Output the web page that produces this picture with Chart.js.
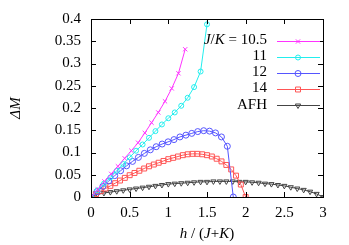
<!DOCTYPE html>
<html><head><meta charset="utf-8">
<script src="https://cdn.jsdelivr.net/npm/chart.js@4/dist/chart.umd.min.js"></script>
<style>html,body{margin:0;padding:0;background:#fff}#wrap{width:349px;height:245px}</style>
</head><body><div id="wrap"><canvas id="c" width="349" height="245"></canvas></div>
<script>
// ---- data ----
const xTicks = [0, 0.5, 1, 1.5, 2, 2.5, 3];
const yTicks = [0, 0.05, 0.1, 0.15, 0.2, 0.25, 0.3, 0.35, 0.4];
const legendLabels = ["10.5", "11", "12", "14", "AFH"];

const x105 = [0,0.087,0.174,0.261,0.348,0.435,0.522,0.609,0.696,0.783,0.87,0.957,1.044,1.131,1.218];
const y105 = [0,0.017,0.035,0.052,0.069,0.087,0.104,0.122,0.144,0.167,0.19,0.215,0.244,0.278,0.332];

const x11 = [0,0.083,0.167,0.25,0.333,0.417,0.5,0.583,0.667,0.75,0.833,0.917,1.0,1.083,1.167,1.25,1.333,1.417,1.5,1.583];
const y11 = [0,0.015,0.03,0.044,0.059,0.074,0.089,0.104,0.118,0.133,0.148,0.163,0.177,0.19,0.205,0.223,0.247,0.282,0.388,0.55];

const x12 = [0,0.077,0.153,0.23,0.307,0.383,0.46,0.537,0.613,0.69,0.767,0.843,0.92,0.997,1.073,1.15,1.227,1.303,1.38,1.457,1.533,1.61,1.687,1.763,1.84];
const y12 = [0,0.012,0.024,0.036,0.048,0.059,0.07,0.08,0.089,0.098,0.106,0.113,0.119,0.124,0.129,0.135,0.139,0.143,0.147,0.149,0.148,0.144,0.135,0.114,0];

const x14 = [0,0.0625,0.125,0.1875,0.25,0.3125,0.375,0.4375,0.5,0.5625,0.625,0.6875,0.75,0.8125,0.875,0.9375,1.0,1.0625,1.125,1.1875,1.25,1.3125,1.375,1.4375,1.5,1.5625,1.625,1.6875,1.75,1.8125,1.875,1.9375,2.0];
const y14 = [0,0.0065,0.013,0.019,0.025,0.031,0.037,0.043,0.049,0.054,0.059,0.064,0.069,0.073,0.077,0.081,0.085,0.088,0.091,0.094,0.096,0.097,0.097,0.096,0.094,0.091,0.086,0.08,0.072,0.062,0.048,0.028,0];

const xAFH = [0,0.083,0.167,0.25,0.333,0.417,0.5,0.583,0.667,0.75,0.833,0.917,1.0,1.083,1.167,1.25,1.333,1.417,1.5,1.583,1.667,1.75,1.833,1.917,2.0,2.083,2.167,2.25,2.333,2.417,2.5,2.583,2.667,2.75,2.833,2.917,3.0];
const yAFH = [0,0.006,0.009,0.011,0.013,0.015,0.017,0.019,0.021,0.023,0.025,0.027,0.029,0.03,0.031,0.032,0.033,0.034,0.034,0.035,0.035,0.035,0.035,0.034,0.034,0.033,0.032,0.03,0.029,0.027,0.025,0.022,0.019,0.016,0.012,0.007,0];

// ---- chart ----
const FONT = "'Liberation Serif','Times New Roman',serif";
function pts(xs, ys){ return xs.map((x,i)=>({x:x, y:ys[i]})); }
function ds(label, xs, ys, color, style, r, rot){
  return {label, data: pts(xs, ys), borderColor: color, backgroundColor: 'rgba(0,0,0,0)',
    pointBorderColor: color, pointBackgroundColor: 'rgba(0,0,0,0)', pointStyle: style,
    pointRadius: r, pointRotation: rot||0, pointBorderWidth: 1, borderWidth: 1, tension: 0, fill: false};
}
const datasets = [
  ds(legendLabels[0], x105, y105, '#ff33ff', 'crossRot', 3),
  ds(legendLabels[1], x11, y11, '#22eeee', 'circle', 2.5),
  ds(legendLabels[2], x12, y12, '#5555ff', 'circle', 3),
  ds(legendLabels[3], x14, y14, '#ff5555', 'rect', 3.5),
  ds(legendLabels[4], xAFH, yAFH, '#444444', 'triangle', 3, 180)
];

function drawSegs(ctx, segs, x, y, align){
  let w = 0;
  segs.forEach(s=>{ ctx.font = (s[1]? s[1]+' ':'') + '15px ' + FONT; w += ctx.measureText(s[0]).width; });
  let cx = align==='center' ? x - w/2 : (align==='right' ? x - w : x);
  ctx.textAlign = 'left'; ctx.fillStyle = '#000'; ctx.textBaseline = 'middle';
  segs.forEach(s=>{ ctx.font = (s[1]? s[1]+' ':'') + '15px ' + FONT; ctx.fillText(s[0], cx, y); cx += ctx.measureText(s[0]).width; });
}

const decor = {
  id: 'decor',
  afterDraw(chart){
    const ctx = chart.ctx, a = chart.chartArea, xs = chart.scales.x, ys = chart.scales.y;
    ctx.save();
    ctx.strokeStyle = '#000'; ctx.lineWidth = 1;
    ctx.strokeRect(Math.round(a.left)+0.5, Math.round(a.top)+0.5, Math.round(a.right-a.left), Math.round(a.bottom-a.top));
    ctx.beginPath();
    xTicks.forEach(v=>{ const p = Math.round(xs.getPixelForValue(v))+0.5;
      ctx.moveTo(p, a.bottom); ctx.lineTo(p, a.bottom-5);
      ctx.moveTo(p, a.top); ctx.lineTo(p, a.top+5); });
    yTicks.forEach(v=>{ const p = Math.round(ys.getPixelForValue(v))+0.5;
      ctx.moveTo(a.left, p); ctx.lineTo(a.left+5, p);
      ctx.moveTo(a.right, p); ctx.lineTo(a.right-5, p); });
    ctx.stroke();
    // y title
    ctx.save(); ctx.translate(16, 108); ctx.rotate(-Math.PI/2);
    ctx.font = 'italic 15px ' + FONT; ctx.textAlign = 'center'; ctx.textBaseline = 'middle'; ctx.fillStyle = '#000';
    ctx.fillText('\u0394M', 0, 0); ctx.restore();
    // x title
    drawSegs(ctx, [['h','italic'],[' / (',''],['J','italic'],['+',''],['K','italic'],[')','']], (a.left+a.right)/2, 234, 'center');
    // legend
    const rows = [40.5, 56.5, 72.5, 88.5, 105];
    chart.data.datasets.forEach((d,i)=>{
      const y = rows[i];
      if(i===0){
        drawSegs(ctx, [['J','italic'],['/',''],['K','italic'],[' = ' + d.label,'']], 267, y, 'right');
      } else {
        drawSegs(ctx, [[d.label,'']], 267, y, 'right');
      }
      const yy = Math.round(y)+0.5;
      ctx.strokeStyle = d.borderColor; ctx.lineWidth = 1;
      ctx.beginPath(); ctx.moveTo(277, yy); ctx.lineTo(320, yy); ctx.stroke();
      ctx.strokeStyle = d.borderColor; ctx.fillStyle = 'rgba(0,0,0,0)';
      Chart.helpers.drawPoint(ctx, {pointStyle: d.pointStyle, radius: d.pointRadius, rotation: d.pointRotation, borderWidth: 1}, 298, yy);
    });
    ctx.restore();
  }
};

new Chart(document.getElementById('c'), {
  type: 'line',
  data: { datasets },
  options: {
    responsive: false, animation: false, maintainAspectRatio: false,
    layout: { padding: { top: 19, right: 26, left: 0, bottom: 0 } },
    plugins: { legend: { display: false }, tooltip: { enabled: false } },
    scales: {
      x: { type: 'linear', min: 0, max: 3,
        afterFit(s){ s.height = 48; },
        afterBuildTicks(s){ s.ticks = xTicks.map(v=>({value:v})); },
        grid: { display: false, drawTicks: false }, border: { display: false },
        ticks: { color: '#000', font: { family: FONT, size: 15 }, padding: 7, maxRotation: 0,
          callback: v => String(v) } },
      y: { type: 'linear', min: 0, max: 0.4,
        afterFit(s){ s.width = 91; },
        afterBuildTicks(s){ s.ticks = yTicks.map(v=>({value:v})); },
        grid: { display: false, drawTicks: false }, border: { display: false },
        ticks: { color: '#000', font: { family: FONT, size: 15 }, padding: 10,
          callback: v => String(v) } }
    }
  },
  plugins: [decor]
});
</script></body></html>
